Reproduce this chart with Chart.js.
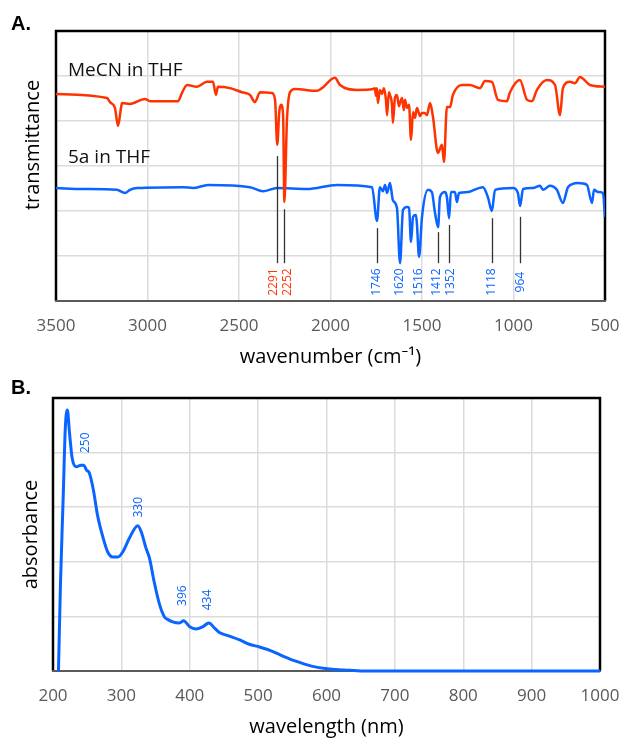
<!DOCTYPE html>
<html>
<head>
<meta charset="utf-8">
<script src="https://cdn.jsdelivr.net/npm/chart.js@4.4.0/dist/chart.umd.min.js"></script>
<style>
body{margin:0;background:#fff;width:625px;height:740px;overflow:hidden}
.panel{position:absolute;left:0;width:625px;height:370px}
.tag{position:absolute;left:11px;font:bold 20px 'Liberation Sans',Arial,sans-serif;color:#000;line-height:23px}
</style>
</head>
<body>
<div class="panel" style="top:0"><canvas id="irChart" width="625" height="370"></canvas></div>
<div class="panel" style="top:370px"><canvas id="uvChart" width="625" height="370"></canvas></div>
<div class="tag" style="top:12px">A.</div>
<div class="tag" style="top:376px">B.</div>
<script>
// ---- panel A: IR spectra (wavenumber, cm-1 / transmittance, arbitrary offset units)
const irTicks = [3500, 3000, 2500, 2000, 1500, 1000, 500]

const mecnWn = [3500,3221,3205,3178,3161,3145,3139,3096,3014,2986,2833,2812,2784,2730,2675,2642,2626,2615,2549,2484,2440,2413,2385,2320,2303,2291,2280,2270,2259,2252,2238,2221,2194,2074,2047,1976,1948,1855,1768,1757,1752,1746,1741,1730,1719,1708,1697,1691,1681,1675,1664,1659,1648,1637,1626,1620,1609,1599,1593,1582,1571,1560,1549,1538,1528,1522,1511,1500,1484,1473,1456,1440,1413,1391,1380,1364,1347,1331,1282,1238,1183,1156,1118,1085,1036,1019,965,926,899,872,817,773,746,730,692,664,637,582,500]
const mecnT = [4.60,4.51,4.42,4.29,3.89,4.29,4.40,4.38,4.49,4.44,4.44,4.62,4.80,4.76,4.87,4.87,4.58,4.76,4.73,4.64,4.58,4.42,4.64,4.62,4.47,3.47,4.20,4.36,4.13,2.20,4.02,4.64,4.71,4.67,4.73,4.96,4.80,4.69,4.71,4.73,4.56,4.73,4.40,4.69,4.60,4.73,4.47,4.13,4.64,4.58,4.36,3.96,4.51,4.58,4.33,4.40,4.51,4.24,4.47,4.29,4.36,3.58,4.20,4.07,4.29,4.24,4.11,4.18,4.18,4.13,4.40,4.09,3.29,3.47,3.09,4.31,4.31,4.58,4.80,4.80,4.73,4.89,4.87,4.47,4.44,4.64,4.91,4.47,4.44,4.69,4.91,4.80,4.13,4.73,4.87,4.84,4.98,4.80,4.76]

const fiveaWn = [3500,3352,3167,3123,3096,3057,2806,2751,2669,2440,2369,2292,2129,1965,1773,1746,1730,1713,1702,1691,1675,1659,1637,1620,1604,1582,1571,1560,1549,1533,1528,1516,1500,1467,1446,1429,1412,1402,1374,1364,1352,1342,1320,1309,1298,1254,1167,1140,1118,1101,1003,976,964,948,894,855,839,801,763,730,702,648,599,571,560,538,511,500]
const fiveaT = [2.51,2.49,2.47,2.40,2.47,2.51,2.53,2.51,2.58,2.53,2.44,2.51,2.49,2.58,2.53,1.78,2.53,2.44,2.58,2.40,2.62,2.24,2.07,0.84,2.02,2.09,2.07,1.31,1.87,1.91,1.73,0.98,1.87,2.47,2.42,1.96,1.64,2.31,2.42,2.31,1.84,2.42,2.42,2.20,2.40,2.42,2.53,2.31,2.00,2.47,2.51,2.40,2.11,2.49,2.51,2.56,2.47,2.56,2.47,2.18,2.53,2.62,2.58,2.18,2.47,2.42,2.40,1.87]

const seriesNames = ['MeCN in THF', '5a in THF']
const seriesNameY = [5.0, 3.06]

// peak marks: position, top of the marker line (null = no line)
const mecnPeaks = [2291, 2252]
const mecnPeakTop = [3.22, 2.04]
const fiveaPeaks = [1746, 1620, 1516, 1412, 1352, 1118, 964]
const fiveaPeakTop = [1.62, null, null, 1.53, 1.69, 1.84, 1.87]

// ---- panel B: UV-vis (wavelength nm / absorbance, arbitrary units)
const uvTicks = [200, 300, 400, 500, 600, 700, 800, 900, 1000]
const uvNm = [208,211,215,218,221,224,228,234,241,245,249,253,259,265,273,280,287,295,302,312,324,329,336,341,348,356,363,367,375,385,391,400,409,419,428,436,444,458,473,487,502,519,537,555,578,601,625,654,700,800,900,1000]
const uvAbs = [0,1.63,3.22,4.45,4.78,4.38,3.90,3.74,3.77,3.77,3.68,3.63,3.32,2.86,2.45,2.18,2.09,2.09,2.18,2.44,2.66,2.55,2.25,2.07,1.63,1.21,0.99,0.95,0.90,0.88,0.92,0.81,0.77,0.81,0.88,0.79,0.70,0.64,0.57,0.49,0.44,0.37,0.27,0.18,0.09,0.04,0.02,0,0,0,0,0]
const uvPeakText = ['250', '330', '396', '434']
const uvPeakAt = [247, 325, 390, 426]
const uvPeakY = [4.18, 3.00, 1.38, 1.30]

const RED = '#ff3300'
const BLUE = '#0a64ff'
const GRID = '#dcdcdc'
const FONT = "'Open Sans', 'Noto Sans', sans-serif"

Chart.defaults.font.family = FONT

function pts(xs, ys) { return xs.map((v, i) => ({x: v, y: ys[i]})) }

// frame round the plot: black on three sides, grey axis line at the bottom
const frame = {
  id: 'frame',
  beforeDatasetsDraw(chart) {
    const {ctx, chartArea: a} = chart
    ctx.save()
    ctx.lineWidth = 2.5
    ctx.strokeStyle = '#000'
    ctx.beginPath()
    ctx.moveTo(a.left, a.bottom)
    ctx.lineTo(a.left, a.top)
    ctx.lineTo(a.right, a.top)
    ctx.lineTo(a.right, a.bottom)
    ctx.stroke()
    ctx.lineWidth = 2
    ctx.strokeStyle = '#5a5a5a'
    ctx.beginPath()
    ctx.moveTo(a.left - 1, a.bottom)
    ctx.lineTo(a.right + 1, a.bottom)
    ctx.stroke()
    ctx.restore()
  }
}

const irMarks = {
  id: 'irMarks',
  afterDatasetsDraw(chart) {
    const {ctx, chartArea: a, scales: {x, y}} = chart
    ctx.save()
    // series names
    ctx.font = '19px ' + FONT
    ctx.fillStyle = '#111'
    ctx.textBaseline = 'alphabetic'
    seriesNames.forEach((s, i) => ctx.fillText(s, a.left + 12, y.getPixelForValue(seriesNameY[i])))

    // y title
    ctx.font = '20px ' + FONT
    ctx.fillStyle = '#000'
    ctx.save()
    ctx.translate(33, a.top + 114)
    ctx.rotate(-Math.PI / 2)
    ctx.textAlign = 'center'
    ctx.textBaseline = 'middle'
    ctx.fillText('transmittance', 0, 0)
    ctx.restore()

    // peak marks
    let marks = []
    mecnPeaks.forEach((p, i) => marks.push({v: p, top: mecnPeakTop[i], color: RED}))
    fiveaPeaks.forEach((p, i) => marks.push({v: p, top: fiveaPeakTop[i], color: BLUE}))
    marks.forEach(m => { m.px = x.getPixelForValue(m.v); m.tx = m.px })
    marks.sort((p, q) => p.tx - q.tx)
    for (let i = 1; i < marks.length; i++) {
      const gap = marks[i].tx - marks[i - 1].tx
      if (gap < 14) {
        const d = (14 - gap) / 2
        marks[i - 1].tx -= d
        marks[i].tx += d
      }
    }
    const yLineEnd = y.getPixelForValue(0.84)
    const yText = y.getPixelForValue(0.42)
    ctx.lineWidth = 1.3
    ctx.strokeStyle = '#333'
    marks.forEach(m => {
      if (m.top != null) {
        ctx.beginPath()
        ctx.moveTo(Math.round(m.px) + 0.5, y.getPixelForValue(m.top))
        ctx.lineTo(Math.round(m.px) + 0.5, yLineEnd)
        ctx.stroke()
      }
      ctx.save()
      ctx.translate(m.tx, yText)
      ctx.rotate(-Math.PI / 2)
      ctx.font = '12px ' + FONT
      ctx.fillStyle = m.color
      ctx.textAlign = 'center'
      ctx.textBaseline = 'middle'
      ctx.fillText(String(m.v), 0, 0)
      ctx.restore()
    })
    ctx.restore()
  }
}

const uvMarks = {
  id: 'uvMarks',
  afterDatasetsDraw(chart) {
    const {ctx, scales: {x, y}} = chart
    ctx.save()
    ctx.font = '12px ' + FONT
    ctx.fillStyle = BLUE
    ctx.textAlign = 'center'
    ctx.textBaseline = 'middle'
    uvPeakText.forEach((t, i) => {
      ctx.save()
      ctx.translate(x.getPixelForValue(uvPeakAt[i]), y.getPixelForValue(uvPeakY[i]))
      ctx.rotate(-Math.PI / 2)
      ctx.fillText(t, 0, 0)
      ctx.restore()
    })
    ctx.restore()
  }
}

const tickFont = {size: 17}
const titleFont = {size: 20}

function fixX(s) {
  s.height = 69
  s.paddingLeft = 0
  s.paddingRight = 0
}

new Chart(document.getElementById('irChart'), {
  type: 'line',
  data: {
    datasets: [
      {label: seriesNames[0], data: pts(mecnWn, mecnT), borderColor: RED, borderWidth: 2.5, pointRadius: 0, cubicInterpolationMode: 'monotone'},
      {label: seriesNames[1], data: pts(fiveaWn, fiveaT), borderColor: BLUE, borderWidth: 2.5, pointRadius: 0, cubicInterpolationMode: 'monotone'}
    ]
  },
  options: {
    responsive: false,
    animation: false,
    devicePixelRatio: 1,
    layout: {padding: {left: 0, right: 20, top: 31, bottom: 0}},
    plugins: {legend: {display: false}, tooltip: {enabled: false}},
    scales: {
      x: {
        type: 'linear', reverse: true, min: 500, max: 3500,
        afterBuildTicks: s => { s.ticks = irTicks.map(v => ({value: v})) },
        afterFit: fixX,
        grid: {color: GRID, lineWidth: 1.5, drawTicks: false},
        border: {display: false},
        ticks: {color: '#595959', font: tickFont, padding: 15, maxRotation: 0, callback: v => String(v)},
        title: {display: true, text: 'wavenumber (cm\u207b\u00b9)', color: '#000', font: titleFont, padding: {top: 0, bottom: 1}}
      },
      y: {
        min: 0, max: 6,
        afterFit: s => { s.width = 56 },
        grid: {color: GRID, lineWidth: 1.5, drawTicks: false},
        border: {display: false},
        ticks: {display: false, stepSize: 1}
      }
    }
  },
  plugins: [frame, irMarks]
})

new Chart(document.getElementById('uvChart'), {
  type: 'line',
  data: {
    datasets: [
      {label: 'UV-vis', data: pts(uvNm, uvAbs), borderColor: BLUE, borderWidth: 3, pointRadius: 0, cubicInterpolationMode: 'monotone', clip: false}
    ]
  },
  options: {
    responsive: false,
    animation: false,
    devicePixelRatio: 1,
    layout: {padding: {left: 0, right: 25, top: 28, bottom: 0}},
    plugins: {legend: {display: false}, tooltip: {enabled: false}},
    scales: {
      x: {
        type: 'linear', min: 200, max: 1000,
        afterBuildTicks: s => { s.ticks = uvTicks.map(v => ({value: v})) },
        afterFit: fixX,
        grid: {color: GRID, lineWidth: 1.5, drawTicks: false},
        border: {display: false},
        ticks: {color: '#595959', font: tickFont, padding: 15, maxRotation: 0, callback: v => String(v)},
        title: {display: true, text: 'wavelength (nm)', color: '#000', font: titleFont, padding: {top: 0, bottom: 1}}
      },
      y: {
        min: 0, max: 5,
        afterFit: s => { s.width = 53 },
        grid: {color: GRID, lineWidth: 1.5, drawTicks: false},
        border: {display: false},
        ticks: {display: false, stepSize: 1},
        title: {display: true, text: 'absorbance', color: '#000', font: titleFont, padding: {top: 19, bottom: 0}}
      }
    }
  },
  plugins: [frame, uvMarks]
})
</script>
</body>
</html>
